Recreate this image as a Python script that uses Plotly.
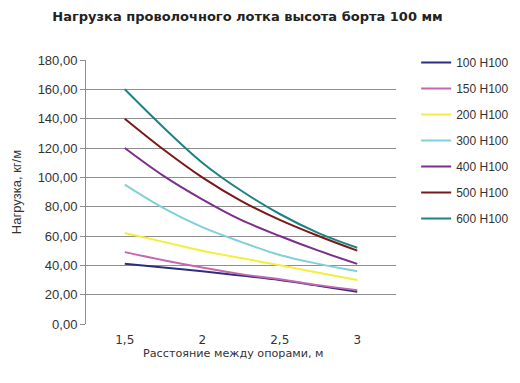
import plotly.graph_objects as go

# Data
spans = [1.5, 1.75, 2.0, 2.25, 2.5, 2.75, 3.0]
series_names = ["100 H100", "150 H100", "200 H100", "300 H100", "400 H100", "500 H100", "600 H100"]
load_100 = [41, 38.5, 36, 33, 30, 26, 22]
load_150 = [49, 43.5, 38.5, 34, 30.5, 26.5, 23]
load_200 = [62, 56, 50, 45, 40, 35, 30]
load_300 = [95, 79, 66, 56, 47, 41, 36]
load_400 = [120, 101, 85, 71, 60, 50, 41]
load_500 = [140, 119, 100, 84, 71, 60, 50]
load_600 = [160, 134, 110, 91, 75, 62, 52]
x_tick_vals = [1.5, 2.0, 2.5, 3.0]
x_tick_text = ["1,5", "2", "2,5", "3"]
y_tick_vals = [0, 20, 40, 60, 80, 100, 120, 140, 160, 180]
y_tick_text = ["0,00", "20,00", "40,00", "60,00", "80,00", "100,00", "120,00", "140,00", "160,00", "180,00"]

colors = ["#2b2f7e", "#c466b0", "#f4ee3c", "#80d0db", "#7b2f8a", "#7a1818", "#1e8282"]
all_series = [load_100, load_150, load_200, load_300, load_400, load_500, load_600]

fig = go.Figure()
for i, (name, vals) in enumerate(zip(series_names, all_series)):
    fig.add_trace(go.Scatter(
        x=spans, y=vals, name=name, mode="lines",
        line=dict(color=colors[i], width=2, shape="spline", smoothing=1.0),
        legendgroup=f"g{i}",
    ))

fig.update_layout(
    width=520, height=383,
    margin=dict(l=86, r=124, t=60, b=59, autoexpand=False),
    paper_bgcolor="white", plot_bgcolor="white",
    title=dict(
        text="<b>Нагрузка проволочного лотка высота борта 100 мм</b>",
        font=dict(family="DejaVu Sans", size=13, color="#222222"),
        x=0.476, xanchor="center", xref="container",
        y=1 - 16 / 383, yanchor="middle", yref="container",
    ),
    legend=dict(
        x=1.065, xanchor="left", y=1.045, yanchor="top",
        font=dict(family="Liberation Sans", size=12, color="#333333"),
        tracegroupgap=7, itemwidth=30,
        bgcolor="rgba(0,0,0,0)",
    ),
    showlegend=True,
    annotations=[dict(
        text="Расстояние между опорами, м", xref="paper", yref="paper",
        x=(233 - 86) / 310, y=-(353 - 324) / 264, xanchor="center", yanchor="middle",
        showarrow=False, font=dict(family="DejaVu Sans", size=11.2, color="#333333"),
    )],
)

fig.update_xaxes(
    range=[1.25, 3.25], tickvals=x_tick_vals, ticktext=x_tick_text,
    showgrid=False, zeroline=False, showline=False,
    ticks="outside", ticklen=5, tickcolor="rgba(0,0,0,0)",
    tickfont=dict(family="DejaVu Sans", size=12, color="#333333"),
)
fig.update_yaxes(
    range=[0, 180], tickvals=y_tick_vals, ticktext=y_tick_text,
    showgrid=True, gridcolor="#8f8f8f", gridwidth=1,
    zeroline=False, showline=True, linecolor="#8f8f8f", linewidth=1,
    ticks="outside", ticklen=5, tickcolor="#8f8f8f",
    tickfont=dict(family="Liberation Sans", size=13, color="#333333"),
    title=dict(text="Нагрузка, кг/м",
               font=dict(family="Liberation Sans", size=13, color="#333333"), standoff=13),
)

fig.write_html("out.html")
